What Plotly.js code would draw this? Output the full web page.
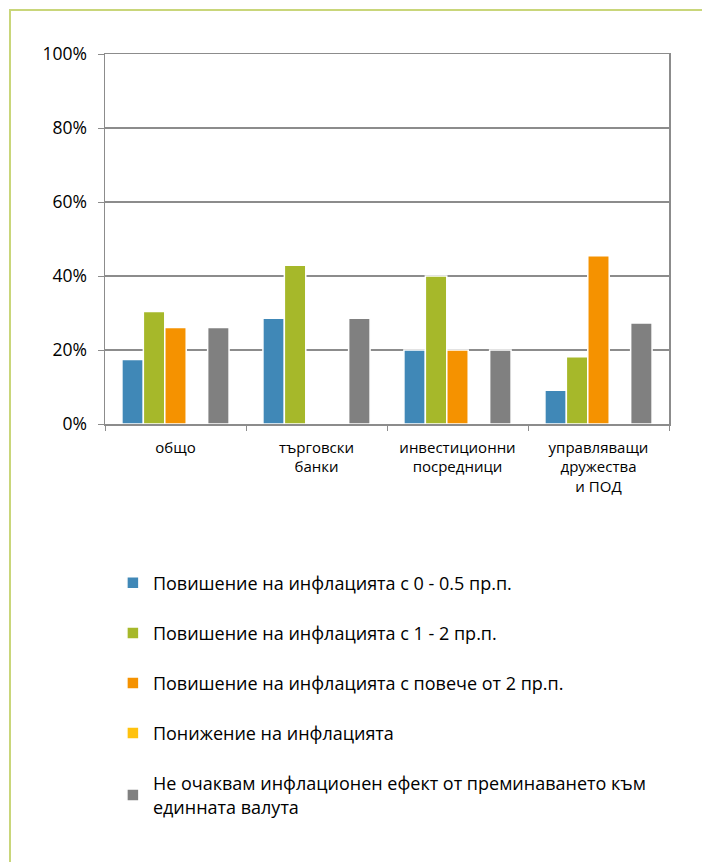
<!DOCTYPE html>
<html>
<head>
<meta charset="utf-8">
<script src="https://cdn.plot.ly/plotly-3.0.1.min.js"></script>
<style>
  html, body { margin: 0; padding: 0; background: #ffffff; }
  #frame { position: absolute; left: 9px; top: 9px; width: 693px; height: 853px;
           border-left: 2px solid #C9D67A; border-top: 2px solid #C9D67A; box-sizing: border-box; }
  #chart { position: absolute; left: 0; top: 0; width: 702px; height: 862px; }
</style>
</head>
<body>
<div id="frame"></div>
<div id="chart"></div>
<script>
// Categories (x axis)
const categories = ["общо", "търговски<br>банки", "инвестиционни<br>посредници", "управляващи<br>дружества<br>и ПОД"];

// Series names
const seriesNames = [
  "Повишение на инфлацията с 0 - 0.5 пр.п.",
  "Повишение на инфлацията с 1 - 2 пр.п.",
  "Повишение на инфлацията с повече от 2 пр.п.",
  "Понижение на инфлацията",
  "Не очаквам инфлационен ефект от преминаването към<br>единната валута"
];

// Series values (share of respondents)
const rise0to05   = [0.174, 0.286, 0.20, 0.091];
const rise1to2    = [0.304, 0.429, 0.40, 0.182];
const riseOver2   = [0.261, 0.0,   0.20, 0.455];
const decline     = [0.0,   0.0,   0.0,  0.0];
const noEffect    = [0.261, 0.286, 0.20, 0.273];

const seriesValues = [rise0to05, rise1to2, riseOver2, decline, noEffect];
const seriesColors = ["#4088B7", "#A6B82A", "#F59200", "#FFC20E", "#808080"];

// Y axis tick labels
const yTickVals = [0, 0.2, 0.4, 0.6, 0.8, 1.0];
const yTickText = ["0%", "20%", "40%", "60%", "80%", "100%"];

const FONT = "Open Sans, Noto Sans, sans-serif";

const traces = seriesValues.map((vals, i) => ({
  type: "bar",
  name: seriesNames[i],
  x: categories,
  y: vals,
  legendgroup: "g" + i,
  marker: { color: seriesColors[i], line: { color: "#ffffff", width: 1.5 } },
  hoverinfo: "skip"
}));

const layout = {
  width: 702,
  height: 862,
  paper_bgcolor: "rgba(0,0,0,0)",
  plot_bgcolor: "#ffffff",
  margin: { l: 105, r: 33, t: 54, b: 438 },
  barmode: "group",
  bargap: 0.24,
  bargroupgap: 0,
  font: { family: FONT, size: 16, color: "#000000" },
  xaxis: {
    type: "category",
    showline: true,
    linecolor: "#8C8C8C",
    linewidth: 1.5,
    mirror: true,
    ticks: "outside",
    tickson: "boundaries",
    ticklen: 5,
    tickcolor: "#8C8C8C",
    showgrid: false,
    tickfont: { family: FONT, size: 15, color: "#000000" },
    ticklabelstandoff: 9,
    fixedrange: true
  },
  yaxis: {
    range: [0, 1],
    tickvals: yTickVals,
    ticktext: yTickText,
    showline: true,
    linecolor: "#8C8C8C",
    linewidth: 1.5,
    mirror: true,
    ticks: "outside",
    ticklen: 6,
    tickcolor: "#8C8C8C",
    showgrid: true,
    gridcolor: "#8C8C8C",
    gridwidth: 1.2,
    zeroline: false,
    tickfont: { family: FONT, size: 17.5, color: "#000000" },
    ticklabelstandoff: 7,
    fixedrange: true
  },
  showlegend: true,
  legend: {
    orientation: "v",
    x: 0.014,
    xanchor: "left",
    y: -0.38,
    yanchor: "top",
    traceorder: "grouped",
    tracegroupgap: 23.7,
    font: { family: FONT, size: 18, color: "#000000" },
    bgcolor: "rgba(0,0,0,0)"
  }
};

Plotly.newPlot("chart", traces, layout, { displayModeBar: false, staticPlot: true });
</script>
</body>
</html>
